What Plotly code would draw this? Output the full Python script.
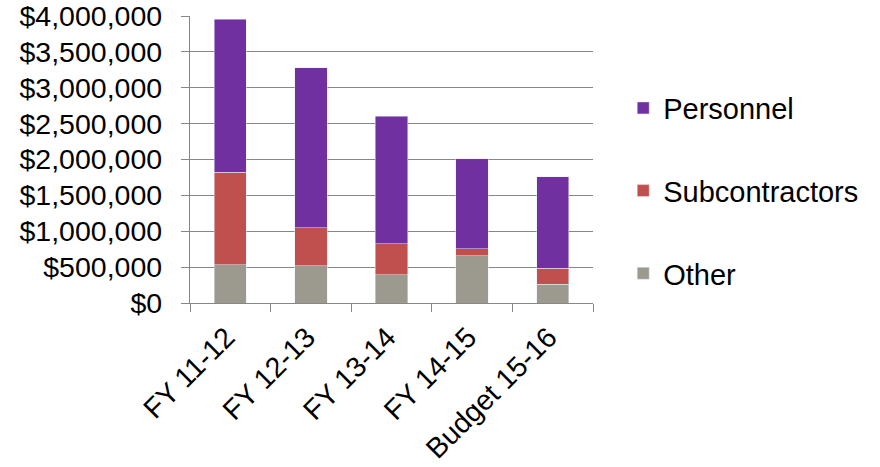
import plotly.graph_objects as go

categories = ["FY 11-12", "FY 12-13", "FY 13-14", "FY 14-15", "Budget 15-16"]
other = [530000, 521000, 396000, 656000, 261000]
subcontractors = [1292000, 528000, 430000, 101000, 222000]
personnel = [2131000, 2231000, 1774000, 1254000, 1274000]
y_ticks = [0, 500000, 1000000, 1500000, 2000000, 2500000, 3000000, 3500000, 4000000]
y_tick_labels = ["$0", "$500,000", "$1,000,000", "$1,500,000", "$2,000,000",
                 "$2,500,000", "$3,000,000", "$3,500,000", "$4,000,000"]

FONT = "Liberation Sans, Arial, sans-serif"
GRID = "#878787"

fig = go.Figure()
fig.add_trace(go.Bar(name="Other", x=categories, y=other, marker_color="#9C9A8E",
                     legendgroup="o", legendrank=3))
fig.add_trace(go.Bar(name="Subcontractors", x=categories, y=subcontractors,
                     marker_color="#C0504D", legendgroup="s", legendrank=2))
fig.add_trace(go.Bar(name="Personnel", x=categories, y=personnel,
                     marker_color="#7030A0", legendgroup="p", legendrank=1))

fig.update_layout(
    barmode="stack",
    bargap=0.6,
    width=880, height=467,
    margin=dict(l=190, r=287, t=16, b=163.5, pad=0, autoexpand=False),
    paper_bgcolor="white", plot_bgcolor="white",
    font=dict(family=FONT, size=28.5, color="black"),
    legend=dict(x=1.075, xanchor="left", y=0.39, yanchor="middle",
                traceorder="grouped", tracegroupgap=42,
                font=dict(size=29, family=FONT, color="black"),
                itemwidth=30, bgcolor="rgba(0,0,0,0)"),
    showlegend=True,
)
fig.update_yaxes(range=[0, 4000000], tickvals=y_ticks, ticktext=y_tick_labels,
                 showgrid=True, gridcolor=GRID, gridwidth=1.3,
                 showline=True, linecolor=GRID, linewidth=1.3,
                 ticks="outside", ticklen=8, tickcolor=GRID, tickwidth=1.3,
                 ticklabelstandoff=13, zeroline=False, automargin=False,
                 ticklabeloverflow="allow",
                 tickfont=dict(size=28.5, family=FONT, color="black"))
fig.update_xaxes(showline=True, linecolor=GRID, linewidth=1.3,
                 ticks="outside", ticklen=8, tickcolor=GRID, tickwidth=1.3,
                 tickson="boundaries", tickangle=-45, showgrid=False,
                 automargin=False, ticklabeloverflow="allow",
                 ticklabelstandoff=5, ticklabelshift=-4,
                 tickfont=dict(size=28.5, family=FONT, color="black"))

# remove the default 8px page margin so the figure fills the window exactly
fig.write_html("out.html", config={"displayModeBar": False},
               post_script="document.body.style.margin='0';")
